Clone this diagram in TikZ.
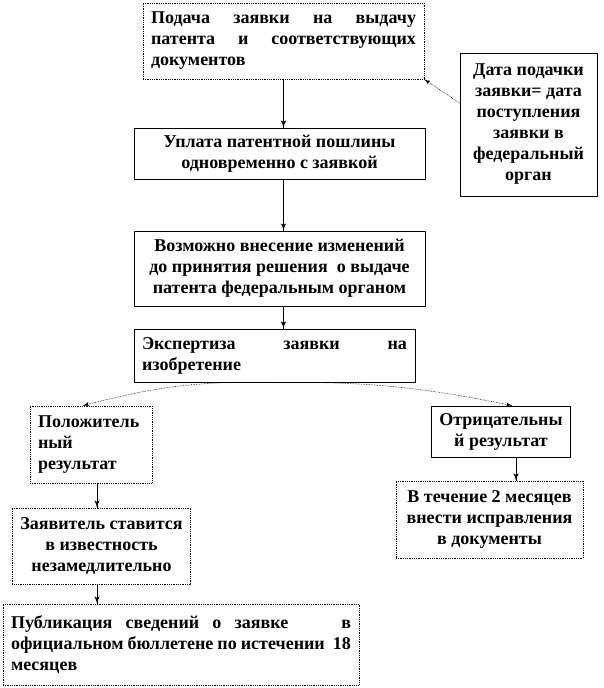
\documentclass[tikz,border=0pt]{standalone}
\usepackage{fontspec}
\setmainfont{Liberation Serif}
\usepackage{tikz}
\usetikzlibrary{arrows}
\usetikzlibrary{decorations.markings}
\setlength{\parindent}{0pt}
\tikzset{->/.style = {decoration={markings,
                                  mark=at position 1 with {\arrow[scale=1.3]{latex'}}},
                      postaction={decorate}}}
\tikzset{box/.style = {draw, line width = 0.8pt, inner xsep = 8pt, inner ysep = 0pt}}
\tikzset{dotbox/.style = {box, densely dotted}}
\tikzset{link/.style = {densely dotted, line width = 0.6pt}}
\newcommand{\jline}[2]{{\spaceskip=0pt\xspaceskip=0pt\makebox[#1][s]{#2}}}

\begin{document}
\begin{tikzpicture}[x = 1pt, y = -1pt, line width = 0.9pt,
                    font = \fontsize{18}{21}\selectfont\bfseries]
      \useasboundingbox (0, 0) rectangle (604, 688);

      \node [dotbox, text width = 265pt, minimum height = 76pt, align = left] (apply) at (283.5, 41)
            {\jline{265pt}{Подача заявки на выдачу}\\ \jline{265pt}{патента и соответствующих}\\ документов};
      \node [box, minimum width = 137pt, minimum height = 143pt, align = center] (date) at (528.5, 124.5)
            {Дата подачки\\ заявки= дата\\ поступления\\ заявки в\\ федеральный\\ орган};
      \node [box, minimum width = 291pt, minimum height = 51pt, align = center] (fee) at (279.5, 153.5)
            {Уплата патентной пошлины\\ одновременно с заявкой};
      \node [box, minimum width = 291pt, minimum height = 75pt, align = center] (amend) at (279.5, 268.5)
            {Возможно внесение изменений\\ до принятия решения\ \ о выдаче\\ патента федеральным органом};
      \node [box, text width = 265pt, minimum height = 53pt, align = left] (exam) at (274.5, 355.5)
            {\jline{265pt}{Экспертиза заявки на}\\ изобретение};
      \node [dotbox, text width = 106pt, minimum height = 77pt, align = left] (pos) at (91, 444.5)
            {Положитель\\ ный\\ результат};
      \node [box, minimum width = 138pt, minimum height = 51pt, align = center] (neg) at (501, 431.5)
            {Отрицательны\\ й результат};
      \node [dotbox, minimum width = 187pt, minimum height = 77pt, align = center] (fix) at (489.5, 519.5)
            {В течение 2 месяцев\\ внести исправления\\ в документы};
      \node [dotbox, minimum width = 177pt, minimum height = 76pt, align = center] (notify) at (101.5, 546)
            {Заявитель ставится\\ в известность\\ незамедлительно};
      \node [dotbox, text width = 340pt, minimum height = 81pt, align = left] (publish) at (181, 644.5)
            {\jline{340pt}{Публикация сведений о заявке\ \ \ \ в}\\ \jline{340pt}{официальном бюллетене по истечении\ \ 18}\\ месяцев};

      \draw [->] (apply.south) -- (apply.south |- fee.north);
      \draw [->] (fee.south -| apply.south) -- (apply.south |- amend.north);
      \draw [->] (amend.south -| apply.south) -- (apply.south |- exam.north);

      \coordinate (split) at ([xshift = 2pt] exam.south);
      \draw [->, link] (split) to [bend right = 8] ([xshift = -8pt] pos.north);
      \draw [->, link] (split) to [bend left = 6] ([xshift = 11pt] neg.north);
      \draw [->, link] ([yshift = 21.5pt] date.west) -- (apply.south east);

      \coordinate (pos-out) at ([xshift = 6pt] pos.south);
      \coordinate (neg-out) at ([xshift = 15pt] neg.south);
      \coordinate (notify-out) at ([xshift = -4.5pt] notify.south);
      \draw [->] (pos-out) -- (pos-out |- notify.north);
      \draw [->] (neg-out) -- (neg-out |- fix.north);
      \draw [->] (notify-out) -- (notify-out |- publish.north);
    \end{tikzpicture}
\end{document}
